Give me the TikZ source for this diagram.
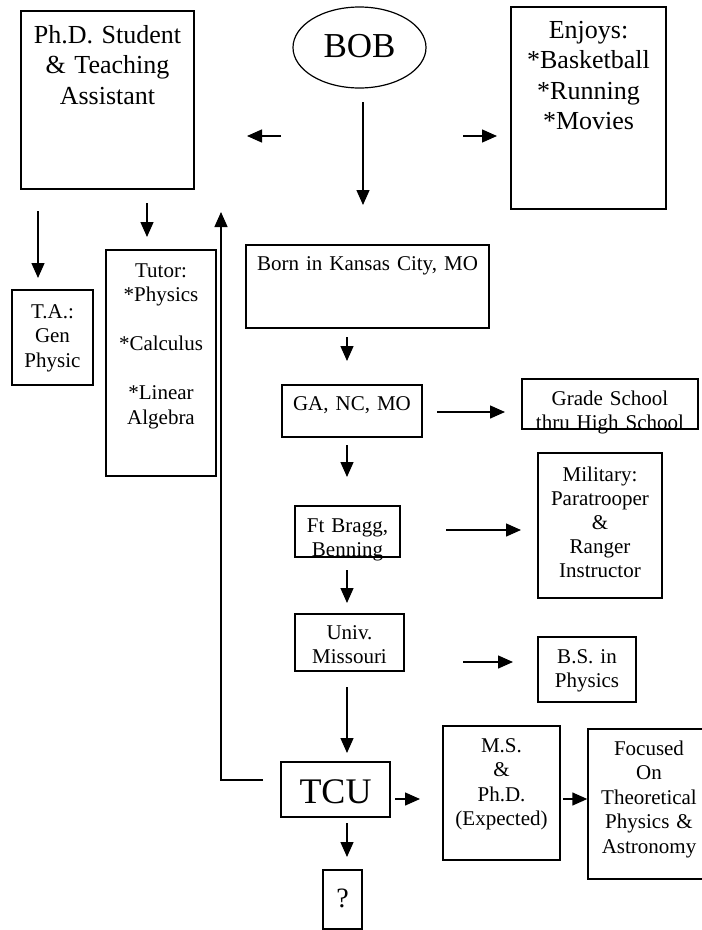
\documentclass[tikz,border=0pt]{standalone}
\usepackage{fontspec}
\setmainfont{Liberation Serif}
\usetikzlibrary{arrows.meta,shapes.geometric}
\begin{document}
\begin{tikzpicture}[x=1pt,y=-1pt,
  box/.style={draw, line width=1.4pt, inner sep=0pt, rectangle},
  txt/.style={inner sep=0pt, align=center, text width=320pt, anchor=base, font=\fontsize{21}{24.5}\selectfont},
  bigtxt/.style={txt, font=\fontsize{26}{30.5}\selectfont},
  hugetxt/.style={txt, font=\fontsize{36}{40}\selectfont},
  arr/.style={line width=1.4pt, -{Triangle[length=15pt,width=13pt]}}
]
\path[use as bounding box, clip] (0,0) rectangle (702,930);

% boxes
\node[draw, ellipse, line width=1.2pt, minimum width=133pt, minimum height=81pt, inner sep=0pt] (bob) at (359.5,47.5) {};
\node[box, minimum width=173pt, minimum height=178pt] (phd) at (107.5,100) {};
\node[box, minimum width=155pt, minimum height=202pt] (enjoys) at (588.5,108) {};
\node[box, minimum width=81pt, minimum height=95pt] (ta) at (52.5,337.5) {};
\node[box, minimum width=110pt, minimum height=226pt] (tutor) at (161,363) {};
\node[box, minimum width=243pt, minimum height=83pt] (born) at (367.5,286.5) {};
\node[box, minimum width=140pt, minimum height=52pt] (ga) at (352,411) {};
\node[box, minimum width=176pt, minimum height=50pt] (grade) at (610,404) {};
\node[box, minimum width=105pt, minimum height=51pt] (ft) at (347.5,531.5) {};
\node[box, minimum width=124pt, minimum height=145pt] (military) at (600,525.5) {};
\node[box, minimum width=109pt, minimum height=57pt] (univ) at (349.5,642.5) {};
\node[box, minimum width=98pt, minimum height=65pt] (bs) at (587,669.5) {};
\node[box, minimum width=109pt, minimum height=55pt] (tcu) at (335.5,789.5) {};
\node[box, minimum width=117pt, minimum height=134pt] (ms) at (501.5,793) {};
\node[box, minimum width=122pt, minimum height=150pt] (focused) at (649,804) {};
\node[box, minimum width=39pt, minimum height=59pt] (q) at (342.5,899.5) {};

% texts
\node[hugetxt, font=\fontsize{35}{40}\selectfont] (bobt) at (359.5,57) {BOB};
\node[bigtxt] (phdt) at (107.5,43) {Ph.D. Student\\\& Teaching\\Assistant};
\node[bigtxt] (enjoyst) at (588.5,38) {Enjoys:\\{}*Basketball\\{}*Running\\{}*Movies};
\node[txt] (tat) at (52.5,318) {T.A.:\\Gen\\Physic};
\node[txt] (tutort) at (161,277) {Tutor:\\{}*Physics\\[24.5pt]{}*Calculus\\[24.5pt]{}*Linear\\Algebra};
\node[txt] (bornt) at (367.5,270) {Born in Kansas City, MO};
\node[txt] (gat) at (352,410) {GA, NC, MO};
\node[txt] (gradet) at (610,405) {Grade School\\thru High School};
\node[txt] (ftt) at (347.5,532) {Ft Bragg,\\Benning};
\node[txt, font=\fontsize{21}{24}\selectfont] (militaryt) at (600,481) {Military:\\Paratrooper\\\&\\Ranger\\Instructor};
\node[txt] (univt) at (349.5,639) {Univ.\\Missouri};
\node[txt] (bst) at (587,663) {B.S. in\\Physics};
\node[hugetxt] (tcut) at (335.5,803) {TCU};
\node[txt] (mst) at (501.5,752) {M.S.\\\&\\Ph.D.\\(Expected)};
\node[txt] (focusedt) at (649,755) {Focused\\On\\Theoretical\\Physics \&\\Astronomy};
\node[txt, font=\fontsize{28}{30}\selectfont] (qt) at (342.5,907) {?};

% arrow end points
\coordinate (a1s) at (281,136); \coordinate (a1e) at (247,136);
\coordinate (a2s) at (463,136); \coordinate (a2e) at (497,136);
\coordinate (a3s) at (363,102); \coordinate (a3e) at (363,205);
\coordinate (a4s) at (38,211);  \coordinate (a4e) at (38,278);
\coordinate (a5s) at (147,203); \coordinate (a5e) at (147,237);
\coordinate (a6s) at (263,780); \coordinate (a6c) at (221,780); \coordinate (a6e) at (221,212);
\coordinate (a7s) at (347,337); \coordinate (a7e) at (347,361);
\coordinate (a8s) at (437,412); \coordinate (a8e) at (505,412);
\coordinate (a9s) at (347,445); \coordinate (a9e) at (347,477);
\coordinate (a10s) at (446,530); \coordinate (a10e) at (521,530);
\coordinate (a11s) at (347,570); \coordinate (a11e) at (347,603);
\coordinate (a12s) at (463,662); \coordinate (a12e) at (513,662);
\coordinate (a13s) at (347,687); \coordinate (a13e) at (347,753);
\coordinate (a14s) at (395,799); \coordinate (a14e) at (420,799);
\coordinate (a15s) at (563,799);
\coordinate (a16s) at (347,823); \coordinate (a16e) at (347,857);

% connectors
\draw[arr] (a1s) -- (a1e);
\draw[arr] (a2s) -- (a2e);
\draw[arr] (a3s) -- (a3e);
\draw[arr] (a4s) -- (a4e);
\draw[arr] (a5s) -- (a5e);
\draw[arr] (a6s) -- (a6c) -- (a6e);
\draw[arr] (a7s) -- (a7e);
\draw[arr] (a8s) -- (a8e);
\draw[arr] (a9s) -- (a9e);
\draw[arr] (a10s) -- (a10e);
\draw[arr] (a11s) -- (a11e);
\draw[arr] (a12s) -- (a12e);
\draw[arr] (a13s) -- (a13e);
\draw[arr] (a14s) -- (a14e);
\draw[arr] (a15s) -- (a15s -| focused.west);
\draw[arr] (a16s) -- (a16e);
\end{tikzpicture}
\end{document}
